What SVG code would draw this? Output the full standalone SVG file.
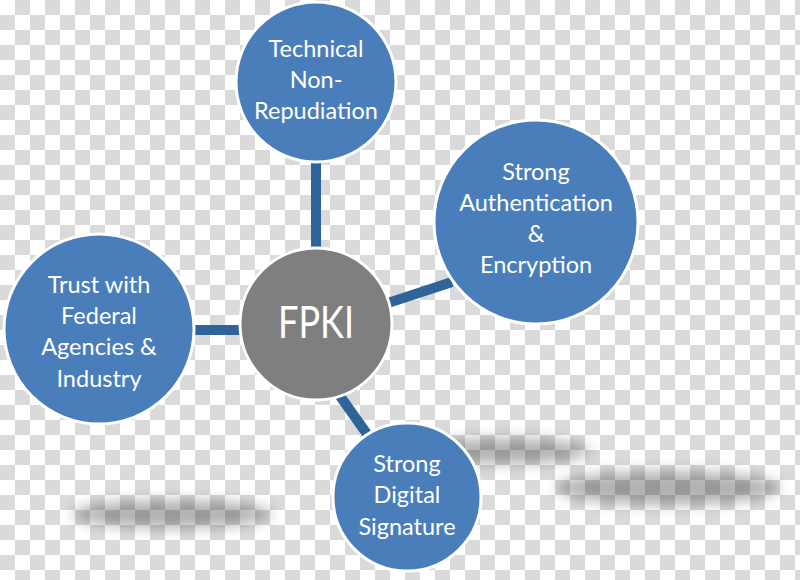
<svg xmlns="http://www.w3.org/2000/svg" width="800" height="580" viewBox="0 0 800 580">
  <defs>
    <pattern id="checker" x="0" y="0" width="30" height="30" patternUnits="userSpaceOnUse">
      <rect width="30" height="30" fill="#ffffff"/>
      <rect x="15" y="0" width="15" height="15" fill="#dadada"/>
      <rect x="0" y="15" width="15" height="15" fill="#dadada"/>
    </pattern>
    <filter id="blur" x="-30%" y="-100%" width="160%" height="300%">
      <feGaussianBlur stdDeviation="7"/>
    </filter>
  </defs>
  <style>
    .node { fill: #4a7ebb; stroke: #ffffff; stroke-width: 3; }
    .hub { fill: #7f7f7f; stroke: #ffffff; stroke-width: 3; }
    .label { fill: #ffffff; font-family: Lato, "Open Sans", sans-serif; font-size: 23.5px; text-anchor: middle; }
    .hublabel { fill: #ffffff; font-family: Lato, "Open Sans", sans-serif; font-size: 44px; text-anchor: middle; }
    .conn { stroke: #2f649a; stroke-width: 10; stroke-linecap: butt; fill: none; }
    .shadow { fill: #000000; opacity: 0.3; filter: url(#blur); }
  </style>

  <rect width="800" height="580" fill="url(#checker)"/>

  <g id="shadows">
    <ellipse class="shadow" cx="172" cy="514" rx="100" ry="14"/>
    <ellipse class="shadow" cx="505" cy="451" rx="85" ry="13"/>
    <ellipse class="shadow" cx="668" cy="488" rx="112" ry="17"/>
  </g>

  <g id="connectors">
    <line class="conn" x1="316" y1="160" x2="316" y2="250"/>
    <line class="conn" x1="388" y1="303" x2="452" y2="282"/>
    <line class="conn" x1="192" y1="330" x2="243" y2="330"/>
    <line class="conn" x1="340" y1="396" x2="367" y2="434"/>
  </g>

  <g id="node-top">
    <circle class="node" cx="316" cy="82" r="80"/>
    <text class="label" x="316" y="57">Technical</text>
    <text class="label" x="316" y="88">Non-</text>
    <text class="label" x="316" y="119">Repudiation</text>
  </g>

  <g id="node-right">
    <circle class="node" cx="536" cy="222" r="102"/>
    <text class="label" x="536" y="180">Strong</text>
    <text class="label" x="536" y="211">Authentication</text>
    <text class="label" x="536" y="242">&amp;</text>
    <text class="label" x="536" y="273">Encryption</text>
  </g>

  <g id="node-left">
    <circle class="node" cx="99" cy="329" r="95"/>
    <text class="label" x="99" y="293">Trust with</text>
    <text class="label" x="99" y="324">Federal</text>
    <text class="label" x="99" y="355">Agencies &amp;</text>
    <text class="label" x="99" y="387">Industry</text>
  </g>

  <g id="node-bottom">
    <circle class="node" cx="407" cy="497" r="74"/>
    <text class="label" x="407" y="472">Strong</text>
    <text class="label" x="407" y="503">Digital</text>
    <text class="label" x="407" y="535">Signature</text>
  </g>

  <g id="node-center">
    <circle class="hub" cx="316" cy="324" r="76"/>
    <text class="hublabel" x="316" y="338" textLength="76" lengthAdjust="spacingAndGlyphs">FPKI</text>
  </g>
</svg>
